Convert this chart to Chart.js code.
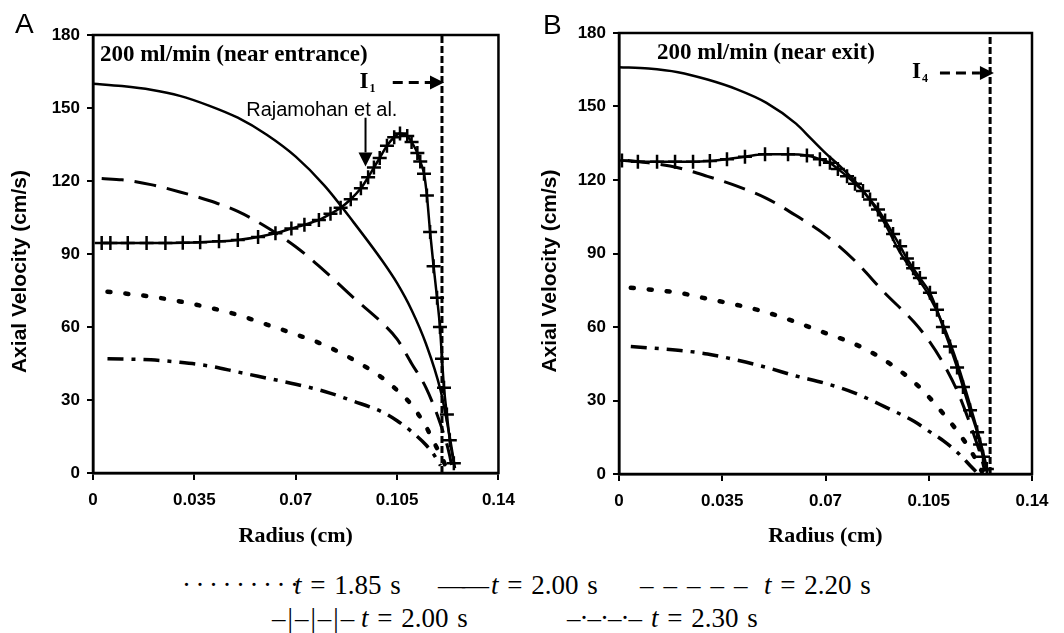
<!DOCTYPE html>
<html>
<head>
<meta charset="utf-8">
<script src="https://cdn.jsdelivr.net/npm/chart.js@4.4.0/dist/chart.umd.min.js"></script>
<style>
  body { margin: 0; background: #fff; width: 1064px; height: 633px; overflow: hidden; position: relative; font-family: "Liberation Serif", serif; color: #000; }
  canvas { position: absolute; top: 0; }
  #chartA { left: 0; }
  #chartB { left: 530px; }
  .lg { position: absolute; font-size: 27px; line-height: 1; white-space: pre; word-spacing: 2px; }
  .lg i { font-style: italic; }
</style>
</head>
<body>
<canvas id="chartA" width="525" height="555"></canvas>
<canvas id="chartB" width="534" height="555"></canvas>

<span class="lg" style="left:182px;top:572px;letter-spacing:4.5px">·········</span>
<span class="lg" style="left:294px;top:572px"><i>t</i> = 1.85 s</span>
<span class="lg" style="left:438px;top:572px;letter-spacing:-3px">——</span>
<span class="lg" style="left:491px;top:572px"><i>t</i> = 2.00 s</span>
<span class="lg" style="left:640px;top:572px;letter-spacing:10px">–––––</span>
<span class="lg" style="left:764px;top:572px"><i>t</i> = 2.20 s</span>
<span class="lg" style="left:272px;top:605px;letter-spacing:2px">–|–|–|–</span>
<span class="lg" style="left:361px;top:605px"><i>t</i> = 2.00 s</span>
<span class="lg" style="left:567px;top:605px;letter-spacing:-1px">–·–·–·–</span>
<span class="lg" style="left:651px;top:605px"><i>t</i> = 2.30 s</span>

<script>
// axes
const xTicks = [0, 0.035, 0.07, 0.105, 0.14];
const xTickLabels = ['0', '0.035', '0.07', '0.105', '0.14'];
const yTicks = [0, 30, 60, 90, 120, 150, 180];

// panel A: near entrance
const rA185 = [0.005, 0.02, 0.03, 0.04, 0.05, 0.06, 0.07, 0.08, 0.09, 0.1, 0.105, 0.11, 0.115, 0.118, 0.121, 0.122];
const vA185 = [74.5, 72.5, 70.5, 68, 65, 61, 57, 52.5, 46.5, 39, 34, 28, 19, 12, 5, 2];
const rA200 = [0, 0.01, 0.02, 0.03, 0.04, 0.05, 0.06, 0.07, 0.08, 0.09, 0.1, 0.105, 0.11, 0.115, 0.12, 0.123, 0.125];
const vA200 = [160, 159, 157.5, 155, 151, 146, 139, 130, 118, 103, 87, 78, 67, 53, 34, 16, 2];
const rA220 = [0.003, 0.01, 0.02, 0.03, 0.04, 0.05, 0.06, 0.07, 0.08, 0.09, 0.1, 0.105, 0.11, 0.115, 0.12, 0.123, 0.124];
const vA220 = [121, 120.5, 118.5, 115.5, 112, 107.5, 101, 93, 83, 72, 61.5, 55, 45, 35, 20, 8, 2];
const rA230 = [0.005, 0.02, 0.03, 0.04, 0.05, 0.06, 0.07, 0.08, 0.09, 0.1, 0.105, 0.11, 0.115, 0.118, 0.12];
const vA230 = [47, 46.5, 45.5, 44, 41.5, 39, 36.5, 33.5, 29.5, 25, 21.5, 17, 11.5, 7, 3];
// Rajamohan et al., t = 2.00 s
const rAexp = [0.003, 0.006, 0.012, 0.0185, 0.025, 0.031, 0.037, 0.0435, 0.05, 0.057, 0.063, 0.0685, 0.073, 0.078, 0.082, 0.0855, 0.089, 0.0925, 0.095, 0.097, 0.099, 0.1015, 0.104, 0.106, 0.1085, 0.11, 0.112, 0.113, 0.1143, 0.1153, 0.1164, 0.1176, 0.1188, 0.1198, 0.1205, 0.1212, 0.1222, 0.1232, 0.1246];
const vAexp = [94.5, 94.5, 94.5, 94.5, 94.5, 94.6, 94.8, 95.2, 95.8, 97, 98.5, 100.5, 102, 104, 106.5, 109, 112.5, 117, 121.5, 125.5, 129.5, 134.5, 138, 139.5, 138.5, 136, 131.5, 128, 123, 114, 99, 85, 72, 60, 47, 35, 24, 13.5, 4];
const rWallA = [0.1205, 0.1205];

// panel B: near exit
const rB185 = [0.004, 0.02, 0.03, 0.04, 0.05, 0.06, 0.07, 0.08, 0.09, 0.1, 0.105, 0.11, 0.115, 0.12, 0.123];
const vB185 = [76, 74, 71.5, 69, 66, 62, 57.5, 53, 46.5, 37.5, 31.5, 24.5, 17, 8, 1];
const rB200 = [0, 0.01, 0.02, 0.03, 0.04, 0.05, 0.06, 0.065, 0.07, 0.075, 0.08, 0.085, 0.09, 0.095, 0.1, 0.105, 0.11, 0.115, 0.12, 0.123, 0.125];
const vB200 = [166, 165.5, 164, 161, 157, 151.5, 143, 137, 131, 125.5, 119.5, 112, 102.5, 91, 82, 73, 60.5, 44, 24, 11, 1];
const rB220 = [0.003, 0.01, 0.02, 0.03, 0.04, 0.05, 0.06, 0.07, 0.08, 0.09, 0.1, 0.105, 0.11, 0.115, 0.12, 0.123, 0.124];
const vB220 = [128, 127, 125, 121.5, 117.5, 112.5, 105.5, 97.5, 87, 74, 62, 54.5, 45, 33, 17, 6, 1];
const rB230 = [0.004, 0.02, 0.03, 0.04, 0.05, 0.06, 0.07, 0.08, 0.09, 0.1, 0.105, 0.11, 0.115, 0.119, 0.121];
const vB230 = [52, 50.5, 49, 46.5, 43.5, 40, 37, 33, 27.5, 21.5, 17.5, 13.5, 8.5, 3.5, 1];
const rBexp = [0.001, 0.0064, 0.0129, 0.019, 0.0251, 0.0308, 0.0366, 0.0427, 0.0495, 0.0573, 0.0637, 0.0681, 0.0715, 0.0742, 0.0773, 0.08, 0.0827, 0.0851, 0.0878, 0.0902, 0.0929, 0.0953, 0.0976, 0.0997, 0.102, 0.1054, 0.1078, 0.1098, 0.1122, 0.1146, 0.1166, 0.119, 0.1214, 0.1224, 0.1234, 0.1247];
const vBexp = [128, 127.5, 127.5, 127.5, 127.5, 127.8, 128.5, 129.5, 130.5, 130.5, 130, 128.5, 127, 124.5, 121.5, 118.5, 115.5, 112, 108, 103.5, 98, 93, 88, 84, 80, 74, 67, 60, 52, 43.5, 35.5, 26, 17, 12, 7, 2];
const rWallB = [0.1258, 0.1258];
const vWall = [0, 180];

const styles = {
  dotted: { borderWidth: 4.5, borderDash: [3, 15], borderCapStyle: 'round' },
  solid: { borderWidth: 2.5 },
  dashed: { borderWidth: 3, borderDash: [22, 11] },
  dashdot: { borderWidth: 3.5, borderDash: [16, 8, 4, 8] },
  crossed: { borderWidth: 2.5, pointStyle: 'cross', pointRadius: 7, pointBorderWidth: 2.5 },
  wall: { borderWidth: 3, borderDash: [7, 3], cubicInterpolationMode: 'default' }
};

function series(r, v, style) {
  return Object.assign({
    data: r.map((x, i) => ({ x: x, y: v[i] })),
    borderColor: '#000',
    backgroundColor: '#000',
    pointRadius: 0,
    cubicInterpolationMode: 'monotone',
    fill: false
  }, style);
}

function arrow(ctx, x1, y1, x2, y2, dashed) {
  const ang = Math.atan2(y2 - y1, x2 - x1);
  const head = 14;
  const bx = x2 - head * Math.cos(ang), by = y2 - head * Math.sin(ang);
  ctx.beginPath();
  ctx.setLineDash(dashed ? [10, 6] : []);
  ctx.lineWidth = dashed ? 3 : 2;
  ctx.moveTo(x1, y1);
  ctx.lineTo(bx, by);
  ctx.stroke();
  ctx.setLineDash([]);
  ctx.beginPath();
  ctx.moveTo(x2, y2);
  ctx.lineTo(bx + 7 * Math.sin(ang), by - 7 * Math.cos(ang));
  ctx.lineTo(bx - 7 * Math.sin(ang), by + 7 * Math.cos(ang));
  ctx.closePath();
  ctx.fill();
}

// frame, panel letter and annotations
const framePlugin = {
  id: 'frame',
  afterDraw(chart, args, opts) {
    const { ctx, chartArea: a, scales: { x, y } } = chart;
    ctx.save();
    ctx.strokeStyle = '#000';
    ctx.fillStyle = '#000';
    ctx.lineWidth = 2.5;
    ctx.strokeRect(a.left, a.top, a.right - a.left, a.bottom - a.top);

    ctx.font = '28px "Liberation Sans"';
    ctx.textBaseline = 'top';
    ctx.textAlign = 'left';
    ctx.fillText(opts.letter, opts.letterPos[0], opts.letterPos[1]);

    opts.notes.forEach(n => {
      const px = x.getPixelForValue(n.r), py = y.getPixelForValue(n.v);
      if (n.type === 'text') {
        ctx.font = n.font;
        ctx.textAlign = n.align;
        ctx.textBaseline = 'middle';
        ctx.fillText(n.text, px, py);
      } else if (n.type === 'label') {
        ctx.font = 'bold 23px "Liberation Serif"';
        ctx.textAlign = 'left';
        ctx.textBaseline = 'middle';
        ctx.fillText('I', px, py);
        const w = ctx.measureText('I').width;
        ctx.font = 'bold 12px "Liberation Serif"';
        ctx.fillText(n.sub, px + w + 1, py + 7);
      } else if (n.type === 'arrow') {
        arrow(ctx, px, py, x.getPixelForValue(n.r2), y.getPixelForValue(n.v2), n.dashed);
      }
    });
    ctx.restore();
  }
};

function makeChart(id, datasets, yWidth, pad, xHeight, frameOpts) {
  const tickFont = { family: 'Liberation Sans', size: 17, weight: 'bold' };
  return new Chart(document.getElementById(id), {
    type: 'line',
    data: { datasets: datasets },
    plugins: [framePlugin],
    options: {
      responsive: false,
      animation: false,
      layout: { padding: pad },
      plugins: {
        legend: { display: false },
        tooltip: { enabled: false },
        frame: frameOpts
      },
      scales: {
        x: {
          type: 'linear',
          min: 0,
          max: 0.14,
          afterBuildTicks: s => { s.ticks = xTicks.map(v => ({ value: v })); },
          afterFit: s => { s.height = xHeight; },
          ticks: { callback: (v, i) => xTickLabels[i], color: '#000', font: tickFont, padding: 10, maxRotation: 0, autoSkip: false },
          grid: { drawOnChartArea: false, drawTicks: true, tickLength: 7, color: '#000', lineWidth: 2 },
          border: { color: '#000', width: 2.5 },
          title: { display: true, text: 'Radius (cm)', color: '#000', font: { family: 'Liberation Serif', size: 22, weight: 'bold' }, padding: { top: 0, bottom: 5 } }
        },
        y: {
          min: 0,
          max: 180,
          afterBuildTicks: s => { s.ticks = yTicks.map(v => ({ value: v })); },
          afterFit: s => { s.width = yWidth; },
          ticks: { color: '#000', font: tickFont, padding: 7 },
          grid: { drawOnChartArea: false, drawTicks: true, tickLength: 6, color: '#000', lineWidth: 2 },
          border: { color: '#000', width: 2.5 },
          // trailing spaces push the visible text a little lower, as in the source figure
          title: { display: true, text: 'Axial Velocity (cm/s)      ', color: '#000', font: { family: 'Liberation Sans', size: 21, weight: 'bold' }, padding: { top: 8, bottom: 0 } }
        }
      }
    }
  });
}

makeChart('chartA', [
  series(rA185, vA185, styles.dotted),
  series(rA200, vA200, styles.solid),
  series(rA220, vA220, styles.dashed),
  series(rA230, vA230, styles.dashdot),
  series(rAexp, vAexp, styles.crossed),
  series(rWallA, vWall, styles.wall)
], 93, { left: 0, right: 23, top: 35, bottom: 0 }, 82, {
  letter: 'A',
  letterPos: [15, 11],
  notes: [
    { type: 'text', text: '200 ml/min (near entrance)', r: 0.0024, v: 171.8, align: 'left', font: 'bold 23px "Liberation Serif"' },
    { type: 'label', sub: '1', r: 0.092, v: 160.7 },
    { type: 'arrow', r: 0.1035, v: 160.5, r2: 0.1212, v2: 160.5, dashed: true },
    { type: 'text', text: 'Rajamohan et al.', r: 0.079, v: 149, align: 'center', font: '20px "Liberation Sans"' },
    { type: 'arrow', r: 0.0941, v: 146, r2: 0.0941, v2: 126, dashed: false }
  ]
});

makeChart('chartB', [
  series(rB185, vB185, styles.dotted),
  series(rB200, vB200, styles.solid),
  series(rB220, vB220, styles.dashed),
  series(rB230, vB230, styles.dashdot),
  series(rBexp, vBexp, styles.crossed),
  series(rWallB, vWall, styles.wall)
], 89, { left: 0, right: 32, top: 33, bottom: 0 }, 81, {
  letter: 'B',
  letterPos: [13, 12],
  notes: [
    { type: 'text', text: '200 ml/min (near exit)', r: 0.0498, v: 171.8, align: 'center', font: 'bold 23px "Liberation Serif"' },
    { type: 'label', sub: '4', r: 0.0993, v: 164 },
    { type: 'arrow', r: 0.1088, v: 163.7, r2: 0.1271, v2: 163.7, dashed: true }
  ]
});
</script>
</body>
</html>
